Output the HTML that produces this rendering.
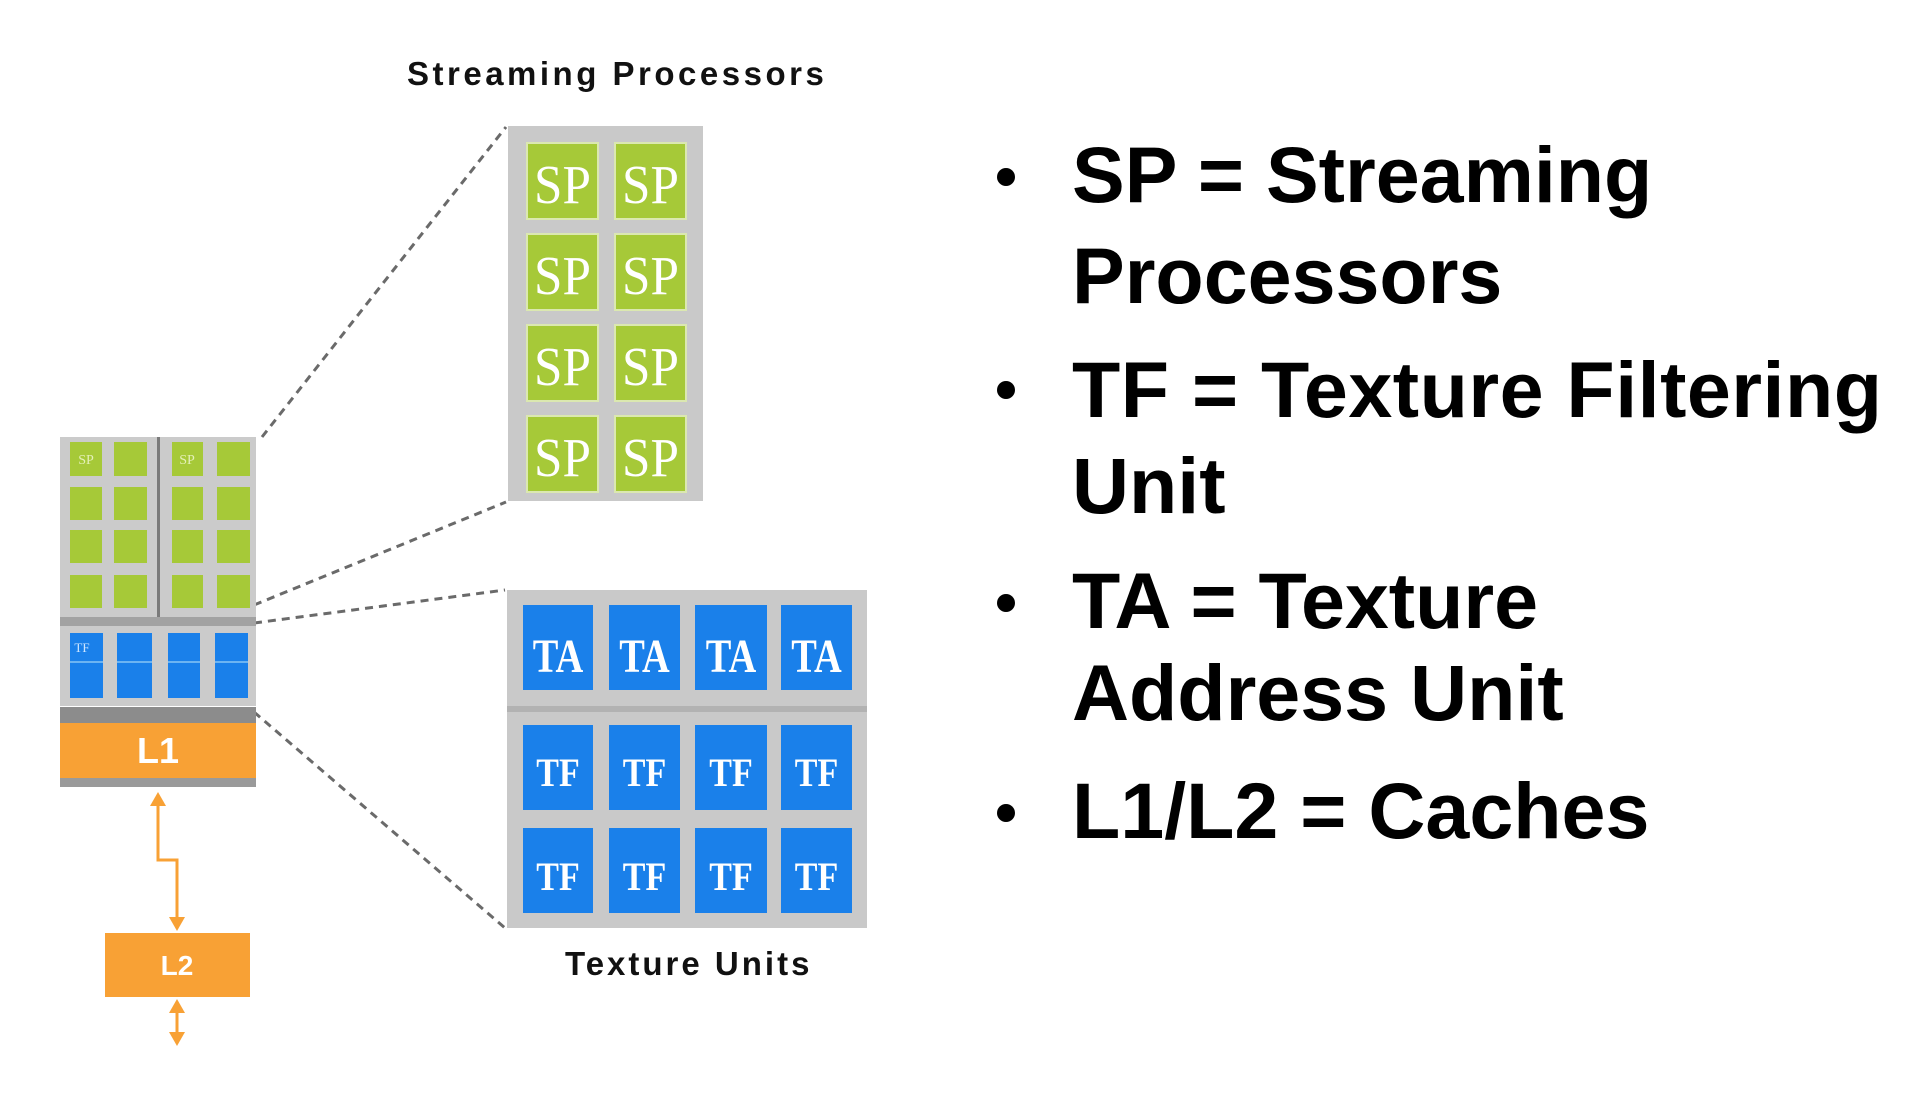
<!DOCTYPE html>
<html>
<head>
<meta charset="utf-8">
<style>
  html,body{margin:0;padding:0;background:#fff;}
  body{width:1920px;height:1104px;overflow:hidden;}
  svg{display:block;}
</style>
</head>
<body>
<svg width="1920" height="1104" viewBox="0 0 1920 1104" xmlns="http://www.w3.org/2000/svg">
  <rect x="0" y="0" width="1920" height="1104" fill="#ffffff"/>

  <!-- Title -->
  <text x="407" y="85" font-family="Liberation Sans, Arial, sans-serif" font-weight="bold" font-size="33" letter-spacing="3.5" fill="#111">Streaming Processors</text>

  <!-- dashed zoom lines -->
  <g stroke="#6a6a6a" stroke-width="3" stroke-dasharray="8 6" fill="none">
    <line x1="262" y1="437" x2="506" y2="127"/>
    <line x1="254" y1="605" x2="506" y2="502"/>
    <line x1="254" y1="623" x2="505" y2="590"/>
    <line x1="254" y1="712" x2="505" y2="928"/>
  </g>

  <!-- SP panel -->
  <rect x="508" y="126" width="195" height="375" fill="#c9c9c9"/>
  <g fill="#a6c938" stroke="#dbe8b0" stroke-width="2">
    <rect x="527" y="143" width="71" height="76"/>
    <rect x="615" y="143" width="71" height="76"/>
    <rect x="527" y="234" width="71" height="76"/>
    <rect x="615" y="234" width="71" height="76"/>
    <rect x="527" y="325" width="71" height="76"/>
    <rect x="615" y="325" width="71" height="76"/>
    <rect x="527" y="416" width="71" height="76"/>
    <rect x="615" y="416" width="71" height="76"/>
  </g>
  <g font-family="Liberation Serif, Times New Roman, serif" font-size="55" fill="#ffffff" text-anchor="middle">
    <text transform="translate(562.5,203) scale(0.93,1)">SP</text>
    <text transform="translate(650.5,203) scale(0.93,1)">SP</text>
    <text transform="translate(562.5,294) scale(0.93,1)">SP</text>
    <text transform="translate(650.5,294) scale(0.93,1)">SP</text>
    <text transform="translate(562.5,385) scale(0.93,1)">SP</text>
    <text transform="translate(650.5,385) scale(0.93,1)">SP</text>
    <text transform="translate(562.5,476) scale(0.93,1)">SP</text>
    <text transform="translate(650.5,476) scale(0.93,1)">SP</text>
  </g>

  <!-- Texture panel -->
  <rect x="507" y="590" width="360" height="338" fill="#c9c9c9"/>
  <rect x="507" y="706" width="360" height="6" fill="#b2b2b2"/>
  <g fill="#1a80ea">
    <rect x="523" y="605" width="70" height="85"/>
    <rect x="609" y="605" width="71" height="85"/>
    <rect x="695" y="605" width="72" height="85"/>
    <rect x="781" y="605" width="71" height="85"/>
    <rect x="523" y="725" width="70" height="85"/>
    <rect x="609" y="725" width="71" height="85"/>
    <rect x="695" y="725" width="72" height="85"/>
    <rect x="781" y="725" width="71" height="85"/>
    <rect x="523" y="828" width="70" height="85"/>
    <rect x="609" y="828" width="71" height="85"/>
    <rect x="695" y="828" width="72" height="85"/>
    <rect x="781" y="828" width="71" height="85"/>
  </g>
  <g font-family="Liberation Serif, Times New Roman, serif" font-weight="bold" fill="#ffffff" text-anchor="middle">
    <g font-size="48">
      <text transform="translate(558,672) scale(0.8,1)">TA</text>
      <text transform="translate(644.5,672) scale(0.8,1)">TA</text>
      <text transform="translate(731,672) scale(0.8,1)">TA</text>
      <text transform="translate(816.5,672) scale(0.8,1)">TA</text>
    </g>
    <g font-size="40">
      <text transform="translate(558,786) scale(0.85,1)">TF</text>
      <text transform="translate(644.5,786) scale(0.85,1)">TF</text>
      <text transform="translate(731,786) scale(0.85,1)">TF</text>
      <text transform="translate(816.5,786) scale(0.85,1)">TF</text>
      <text transform="translate(558,890) scale(0.85,1)">TF</text>
      <text transform="translate(644.5,890) scale(0.85,1)">TF</text>
      <text transform="translate(731,890) scale(0.85,1)">TF</text>
      <text transform="translate(816.5,890) scale(0.85,1)">TF</text>
    </g>
  </g>

  <text x="565" y="975" font-family="Liberation Sans, Arial, sans-serif" font-weight="bold" font-size="33" letter-spacing="3" fill="#111">Texture Units</text>

  <!-- small chip -->
  <rect x="60" y="437" width="196" height="180" fill="#cbcbcb"/>
  <rect x="157" y="437" width="3" height="180" fill="#7a7a7a"/>
  <g fill="#a6c938">
    <rect x="70" y="442" width="32" height="34"/>
    <rect x="114" y="442" width="33" height="34"/>
    <rect x="172" y="442" width="31" height="34"/>
    <rect x="217" y="442" width="33" height="34"/>
    <rect x="70" y="487" width="32" height="33"/>
    <rect x="114" y="487" width="33" height="33"/>
    <rect x="172" y="487" width="31" height="33"/>
    <rect x="217" y="487" width="33" height="33"/>
    <rect x="70" y="530" width="32" height="33"/>
    <rect x="114" y="530" width="33" height="33"/>
    <rect x="172" y="530" width="31" height="33"/>
    <rect x="217" y="530" width="33" height="33"/>
    <rect x="70" y="575" width="32" height="33"/>
    <rect x="114" y="575" width="33" height="33"/>
    <rect x="172" y="575" width="31" height="33"/>
    <rect x="217" y="575" width="33" height="33"/>
  </g>
  <g font-family="Liberation Serif, serif" font-size="14" fill="#e4f0b8" text-anchor="middle">
    <text x="86" y="464">SP</text>
    <text x="187" y="464">SP</text>
  </g>
  <rect x="60" y="617" width="196" height="9" fill="#a2a2a2"/>
  <rect x="60" y="626" width="196" height="80" fill="#cbcbcb"/>
  <g fill="#1a80ea">
    <rect x="70" y="633" width="33" height="65"/>
    <rect x="117" y="633" width="35" height="65"/>
    <rect x="168" y="633" width="32" height="65"/>
    <rect x="215" y="633" width="33" height="65"/>
  </g>
  <g fill="#6cb4f2">
    <rect x="70" y="661" width="33" height="2"/>
    <rect x="117" y="661" width="35" height="2"/>
    <rect x="168" y="661" width="32" height="2"/>
    <rect x="215" y="661" width="33" height="2"/>
  </g>
  <text x="82" y="652" font-family="Liberation Serif, serif" font-size="13" fill="#cfe6ff" text-anchor="middle">TF</text>
  <rect x="60" y="707" width="196" height="16" fill="#8c8c8c"/>
  <rect x="60" y="723" width="196" height="56" fill="#f8a135"/>
  <rect x="60" y="778" width="196" height="9" fill="#9a9a9a"/>
  <text x="158" y="763" font-family="Liberation Sans, Arial, sans-serif" font-weight="bold" font-size="36" fill="#ffffff" text-anchor="middle">L1</text>

  <!-- arrows to L2 -->
  <g stroke="#f8a135" stroke-width="3" fill="none">
    <polyline points="158,804 158,860 177,860 177,918"/>
    <line x1="177" y1="1011" x2="177" y2="1034"/>
  </g>
  <g fill="#f8a135">
    <polygon points="158,792 150,806 166,806"/>
    <polygon points="177,931 169,917 185,917"/>
    <polygon points="177,999 169,1013 185,1013"/>
    <polygon points="177,1046 169,1032 185,1032"/>
  </g>
  <rect x="105" y="933" width="145" height="64" fill="#f8a135"/>
  <text x="177" y="975" font-family="Liberation Sans, Arial, sans-serif" font-weight="bold" font-size="28" fill="#ffffff" text-anchor="middle">L2</text>

  <!-- Bullets -->
  <g fill="#000">
    <circle cx="1006" cy="177" r="9"/>
    <circle cx="1006" cy="390" r="9"/>
    <circle cx="1006" cy="603" r="9"/>
    <circle cx="1006" cy="813" r="9"/>
  </g>
  <g font-family="Liberation Sans, Arial, sans-serif" font-weight="bold" font-size="79" fill="#000">
    <text x="1072" y="202">SP = Streaming</text>
    <text x="1072" y="303">Processors</text>
    <text x="1072" y="417" textLength="810" lengthAdjust="spacing">TF = Texture Filtering</text>
    <text x="1072" y="513">Unit</text>
    <text x="1072" y="628">TA = Texture</text>
    <text x="1072" y="720">Address Unit</text>
    <text x="1072" y="838">L1/L2 = Caches</text>
  </g>
</svg>
</body>
</html>
